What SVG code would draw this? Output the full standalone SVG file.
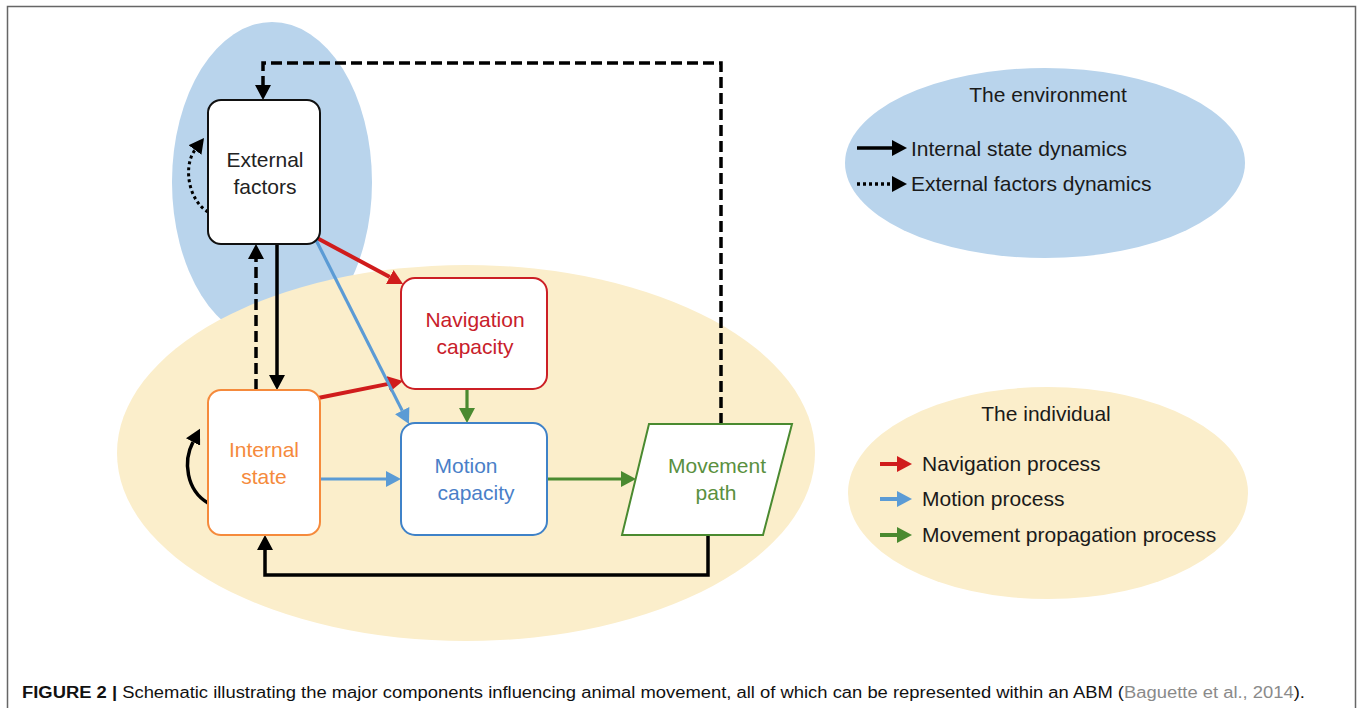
<svg xmlns="http://www.w3.org/2000/svg" width="1360" height="708" viewBox="0 0 1360 708">
<style>
.t{font-family:"Liberation Sans",Arial,sans-serif;font-size:21px;text-anchor:middle}
.lg{font-family:"Liberation Sans",Arial,sans-serif;font-size:21px;fill:#1a1a1a}
.box{fill:#ffffff;stroke-width:2}
.blk{fill:none;stroke:#000;stroke-width:3.5}
.dash{stroke-dasharray:11,5}
.dot{stroke-dasharray:3,3}
.red{fill:none;stroke:#d01c1c;stroke-width:4}
.blu{fill:none;stroke:#5b9bd5;stroke-width:3.2}
.grn{fill:none;stroke:#4a8a30;stroke-width:3.2}
</style>
<defs>
<marker id="ak" markerUnits="userSpaceOnUse" markerWidth="15" markerHeight="16" refX="0" refY="8" orient="auto"><path d="M0,0 L15,8 L0,16 z" fill="#000"/></marker>
<marker id="ar" markerUnits="userSpaceOnUse" markerWidth="15" markerHeight="16" refX="0" refY="8" orient="auto"><path d="M0,0 L15,8 L0,16 z" fill="#d01c1c"/></marker>
<marker id="ab" markerUnits="userSpaceOnUse" markerWidth="15" markerHeight="16" refX="0" refY="8" orient="auto"><path d="M0,0 L15,8 L0,16 z" fill="#5b9bd5"/></marker>
<marker id="ag" markerUnits="userSpaceOnUse" markerWidth="15" markerHeight="16" refX="0" refY="8" orient="auto"><path d="M0,0 L15,8 L0,16 z" fill="#4a8a30"/></marker>
</defs>
<rect x="0" y="0" width="1360" height="708" fill="#fff"/>
<path d="M7.5,720 V6.5 H1355.5 V720" fill="none" stroke="#666" stroke-width="1.5"/>

<g id="backgrounds">
<ellipse cx="272" cy="182" rx="100" ry="160" fill="#b9d4ec"/>
<ellipse cx="466" cy="453" rx="349" ry="188" fill="#fbeecb"/>
<ellipse cx="1045" cy="163" rx="200" ry="95" fill="#b9d4ec"/>
<ellipse cx="1048" cy="493" rx="200" ry="106" fill="#fbeecb"/>
</g>

<g id="connectors">
<path class="blk dash" d="M721,424 V63 H263 V85" marker-end="url(#ak)"/>
<path class="blk" d="M708,535 V575 H265 V550" marker-end="url(#ak)"/>
<path class="blk" d="M277,244 V375" marker-end="url(#ak)"/>
<path class="blk dash" d="M256,390 V259" marker-end="url(#ak)"/>
<path class="blk dot" style="stroke-width:3" d="M208,212 C188,200 183,166 195,150" marker-end="url(#ak)"/>
<path class="blk" style="stroke-width:3.5" d="M208,503 C186,490 183,461 193,442" marker-end="url(#ak)"/>
<path class="red" d="M317,238 L389.8,277" marker-end="url(#ar)"/>
<path class="red" d="M318,398 L388.3,383.9" marker-end="url(#ar)"/>
<path class="blu" d="M316,240 L402.2,410.6" marker-end="url(#ab)"/>
<path class="blu" d="M320,479 H386" marker-end="url(#ab)"/>
<path class="grn" d="M467,389 V408" marker-end="url(#ag)"/>
<path class="grn" d="M547,479 H621" marker-end="url(#ag)"/>
</g>

<g id="external-factors">
<rect class="box" x="208" y="100" width="112" height="144" rx="13" stroke="#111"/>
<text class="t" x="265" y="167" fill="#222">External</text>
<text class="t" x="265" y="194" fill="#222">factors</text>
</g>
<g id="navigation-capacity">
<rect class="box" x="401" y="278" width="146" height="111" rx="14" stroke="#cc1f25"/>
<text class="t" x="475" y="327" fill="#c8202a">Navigation</text>
<text class="t" x="475" y="354" fill="#c8202a">capacity</text>
</g>
<g id="internal-state">
<rect class="box" x="208" y="390" width="112" height="145" rx="13" stroke="#f58a3c"/>
<text class="t" x="264" y="457" fill="#f58a3c">Internal</text>
<text class="t" x="264" y="484" fill="#f58a3c">state</text>
</g>
<g id="motion-capacity">
<rect class="box" x="401" y="423" width="146" height="112" rx="14" stroke="#3f82c8"/>
<text class="t" x="466" y="473" fill="#4a7fc8">Motion</text>
<text class="t" x="476" y="500" fill="#4a7fc8">capacity</text>
</g>
<g id="movement-path">
<polygon class="box" points="649,424 792,424 763,535 622,535" stroke="#4a8a30"/>
<text class="t" x="717" y="473" fill="#5a9040">Movement</text>
<text class="t" x="716" y="500" fill="#5a9040">path</text>
</g>

<g id="legend-environment">
<text class="lg" x="1048" y="102" text-anchor="middle">The environment</text>
<path class="blk" d="M857,148 H892" marker-end="url(#ak)"/>
<text class="lg" x="911" y="156">Internal state dynamics</text>
<path class="blk dot" d="M857,184 H892" marker-end="url(#ak)"/>
<text class="lg" x="911" y="191">External factors dynamics</text>
</g>
<g id="legend-individual">
<text class="lg" x="1046" y="421" text-anchor="middle">The individual</text>
<path class="red" d="M880,464 H897" marker-end="url(#ar)"/>
<text class="lg" x="922" y="471">Navigation process</text>
<path class="blu" style="stroke-width:4" d="M880,499 H897" marker-end="url(#ab)"/>
<text class="lg" x="922" y="506">Motion process</text>
<path class="grn" style="stroke-width:4" d="M880,535 H897" marker-end="url(#ag)"/>
<text class="lg" x="922" y="542">Movement propagation process</text>
</g>

<g id="caption">
<text x="22" y="698" font-family="'Liberation Sans',Arial,sans-serif" font-size="16" fill="#111" textLength="1283" lengthAdjust="spacingAndGlyphs"><tspan font-weight="bold">FIGURE 2 | </tspan>Schematic illustrating the major components influencing animal movement, all of which can be represented within an ABM (<tspan fill="#8a8a8a">Baguette et al., 2014</tspan>).</text>
</g>
</svg>
